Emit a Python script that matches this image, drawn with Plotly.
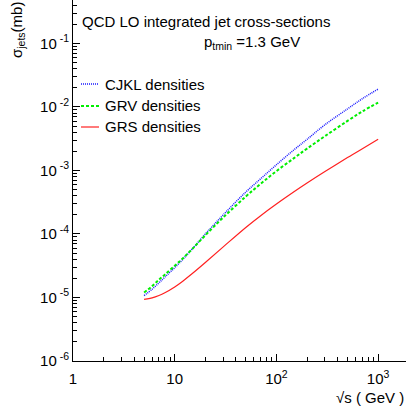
import plotly.graph_objects as go

# sqrt(s) in GeV
sqrt_s = [5, 6, 7, 8, 10, 12, 15, 20, 30, 50, 70, 100, 150, 200, 300, 500, 700, 1000]

# sigma_jets (mb)
cjkl = [1.07e-5, 1.35e-5, 1.70e-5, 2.09e-5, 2.95e-5, 3.98e-5, 5.89e-5, 1.00e-4, 2.00e-4,
        4.57e-4, 7.41e-4, 1.23e-3, 2.14e-3, 3.09e-3, 5.25e-3, 9.33e-3, 1.35e-2, 1.91e-2]
grv = [1.20e-5, 1.51e-5, 1.91e-5, 2.29e-5, 3.16e-5, 4.12e-5, 5.89e-5, 9.55e-5, 1.82e-4,
       3.89e-4, 6.17e-4, 9.77e-4, 1.58e-3, 2.21e-3, 3.47e-3, 6.03e-3, 8.51e-3, 1.17e-2]
grs = [9.33e-6, 9.86e-6, 1.074e-5, 1.186e-5, 1.466e-5, 1.807e-5, 2.404e-5, 3.556e-5, 6.266e-5,
       1.268e-4, 1.941e-4, 2.958e-4, 4.656e-4, 6.339e-4, 9.616e-4, 1.596e-3, 2.203e-3, 3.090e-3]

legend_names = ["CJKL densities", "GRV densities", "GRS densities"]

x_tickvals = [1, 10, 100, 1000]
x_ticktext = ["1", "10", "10<sup>2</sup>", "10<sup>3</sup>"]
y_tickvals = [1e-6, 1e-5, 1e-4, 1e-3, 1e-2, 1e-1]
y_ticktext = ["10<sup>&nbsp;-6</sup>", "10<sup>&nbsp;-5</sup>", "10<sup>&nbsp;-4</sup>",
              "10<sup>&nbsp;-3</sup>", "10<sup>&nbsp;-2</sup>", "10<sup>&nbsp;-1</sup>"]

FONT = "Arial, Liberation Sans, Helvetica, sans-serif"

styles = [
    dict(color="#1a1aff", width=1.5, dash="1px,1px"),
    dict(color="#00ee00", width=2, dash="3px,2px"),
    dict(color="#ff2020", width=1.2, dash="solid"),
]

fig = go.Figure()
for name, ys, st in zip(legend_names, [cjkl, grv, grs], styles):
    fig.add_trace(go.Scatter(x=sqrt_s, y=ys, mode="lines", name=name,
                             line=dict(shape="spline", **st), showlegend=False))

fig.update_layout(
    width=406, height=411,
    margin=dict(l=73, r=0, t=0, b=50),
    plot_bgcolor="white", paper_bgcolor="white",
    font=dict(family=FONT, size=14, color="black"),
    showlegend=False,
)

fig.update_xaxes(
    type="log", range=[0, 3.274],
    showline=True, linecolor="black", linewidth=1, mirror=True,
    showgrid=False, zeroline=False,
    tickvals=x_tickvals, ticktext=x_ticktext,
    ticks="inside", ticklen=7, tickcolor="black",
    minor=dict(dtick="D1", ticks="inside", ticklen=4, tickcolor="black", showgrid=False),
    tickfont=dict(size=15), ticklabelstandoff=4,
)
fig.update_yaxes(
    type="log", range=[-6, -0.316],
    showline=True, linecolor="black", linewidth=1,
    showgrid=False, zeroline=False,
    tickvals=y_tickvals, ticktext=y_ticktext,
    ticks="inside", ticklen=7, tickcolor="black",
    minor=dict(dtick="D1", ticks="inside", ticklen=4, tickcolor="black", showgrid=False),
    tickfont=dict(size=15),
)

W, H = 333.0, 361.0
def px(x):
    return (x - 73) / W
def py(y):
    return (361 - y) / H

ann = [
    dict(text="σ<sub>jets</sub>(mb)", x=px(17), y=1.0, xanchor="center", yanchor="top",
         textangle=-90, font=dict(size=15)),
    dict(text="√s ( GeV )", x=1.0, y=py(397), xanchor="right", yanchor="middle",
         font=dict(size=15)),
    dict(text="QCD LO integrated jet cross-sections", x=px(80), y=py(21),
         xanchor="left", yanchor="middle", font=dict(size=15)),
    dict(text="p<sub>tmin</sub> =1.3 GeV", x=px(202), y=py(43),
         xanchor="left", yanchor="middle", font=dict(size=15)),
]
legend_y = [84, 106, 127]
for name, ly, st in zip(legend_names, legend_y, styles):
    ann.append(dict(text=name, x=px(103), y=py(ly), xanchor="left", yanchor="middle",
                    font=dict(size=15)))
    fig.add_shape(type="line", xref="paper", yref="paper",
                  x0=px(81), x1=px(99), y0=py(ly), y1=py(ly),
                  line=dict(color=st["color"], width=st["width"], dash=st["dash"]))
for a in ann:
    a.update(xref="paper", yref="paper", showarrow=False)
fig.update_layout(annotations=ann)

fig.write_html("out.html", config={"displayModeBar": False},
               post_script="document.body.style.margin='0px';")
